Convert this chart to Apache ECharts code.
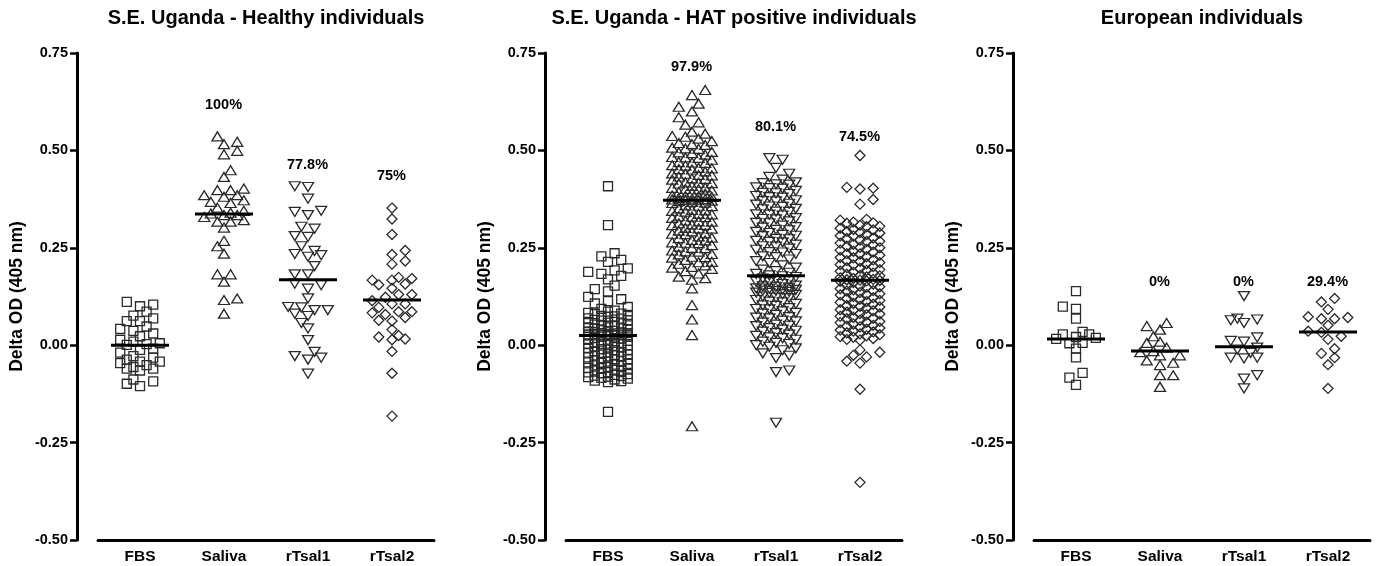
<!DOCTYPE html>
<html>
<head>
<meta charset="utf-8">
<script src="https://cdn.jsdelivr.net/npm/echarts@6/dist/echarts.min.js"></script>
<style>
html,body{margin:0;padding:0;background:#fff;}
#chart{width:1376px;height:566px;}
</style>
</head>
<body>
<div id="chart"></div>
<script>
// ---------------- DATA ----------------
const categories = ['FBS', 'Saliva', 'rTsal1', 'rTsal2'];
const panelTitles = ['S.E. Uganda - Healthy individuals', 'S.E. Uganda - HAT positive individuals', 'European individuals'];
const yAxisName = 'Delta OD (405 nm)';

// Panel 1: S.E. Uganda healthy (n = 36)
const healthyFBS = [0.104, 0.111, 0.100, 0.086, 0.076, 0.069, 0.062, 0.062, 0.048, 0.042, 0.037, 0.030, 0.023, 0.014, 0.009, 0.005, 0.003, 0.001, -0.009, -0.012, -0.019, -0.028, -0.032, -0.037, -0.042, -0.042, -0.046, -0.051, -0.056, -0.060, -0.060, -0.065, -0.088, -0.093, -0.099, -0.105];
const healthySaliva = [0.536, 0.522, 0.516, 0.499, 0.490, 0.449, 0.432, 0.402, 0.398, 0.398, 0.385, 0.385, 0.381, 0.372, 0.368, 0.365, 0.353, 0.345, 0.340, 0.338, 0.334, 0.334, 0.329, 0.321, 0.317, 0.317, 0.302, 0.268, 0.254, 0.235, 0.182, 0.182, 0.163, 0.120, 0.116, 0.081];
const healthyRTsal1 = [0.408, 0.406, 0.376, 0.345, 0.342, 0.334, 0.304, 0.299, 0.280, 0.278, 0.254, 0.242, 0.234, 0.231, 0.227, 0.203, 0.182, 0.182, 0.158, 0.154, 0.145, 0.120, 0.098, 0.097, 0.090, 0.090, 0.081, 0.075, 0.057, 0.043, 0.013, -0.017, -0.028, -0.032, -0.037, -0.073];
const healthyRTsal2 = [0.352, 0.324, 0.284, 0.243, 0.233, 0.216, 0.208, 0.174, 0.171, 0.167, 0.167, 0.157, 0.155, 0.146, 0.130, 0.130, 0.123, 0.114, 0.106, 0.106, 0.097, 0.086, 0.086, 0.083, 0.079, 0.071, 0.064, 0.062, 0.040, 0.025, 0.021, 0.016, 0.014, -0.016, -0.072, -0.182];
const healthyMedians = [0.000, 0.337, 0.168, 0.116];
const healthyPctText = ['', '100%', '77.8%', '75%'];
const healthyPctY = [null, 0.615, 0.462, 0.432];

// Panel 2: S.E. Uganda HAT positive (n = 141)
const hatFBS = [0.408, 0.308, 0.236, 0.228, 0.219, 0.214, 0.197, 0.192, 0.188, 0.183, 0.178, 0.169, 0.153, 0.144, 0.138, 0.124, 0.118, 0.113, 0.107, 0.098, 0.093, 0.089, 0.086, 0.083, 0.081,
  0.080, 0.078, 0.075, 0.074, 0.073, 0.069, 0.068, 0.065, 0.064, 0.063, 0.060, 0.058, 0.057, 0.056, 0.053, 0.051, 0.050, 0.049, 0.046, 0.044,
  0.043, 0.043, 0.040, 0.039, 0.037, 0.036, 0.035, 0.034, 0.032, 0.031, 0.031, 0.030, 0.029, 0.028, 0.028, 0.027, 0.027, 0.026, 0.026, 0.026,
  0.025, 0.025, 0.025, 0.025, 0.025,
  0.024, 0.022, 0.022, 0.019, 0.018, 0.017, 0.014, 0.012, 0.011, 0.009, 0.006, 0.006, 0.004, 0.003, 0.000, -0.001, -0.001, -0.003, -0.005, -0.006,
  -0.007, -0.009, -0.010, -0.012, -0.013, -0.015, -0.017, -0.019, -0.019, -0.020, -0.023, -0.025, -0.026, -0.028, -0.029, -0.031, -0.033, -0.036, -0.036, -0.039,
  -0.041, -0.042, -0.044, -0.045, -0.048, -0.050, -0.052, -0.053, -0.056, -0.058, -0.059, -0.060, -0.063, -0.065, -0.066, -0.069, -0.070, -0.072, -0.074, -0.076,
  -0.078, -0.079, -0.081, -0.082, -0.084, -0.086, -0.088, -0.091, -0.092, -0.095, -0.171];
const hatSaliva = [0.655, 0.642, 0.620, 0.612, 0.600, 0.585, 0.572, 0.566, 0.548, 0.543, 0.537, 0.535, 0.530, 0.524, 0.519,
  0.516, 0.514, 0.507, 0.505, 0.504, 0.496, 0.495, 0.493, 0.489, 0.483, 0.482, 0.481, 0.476, 0.470, 0.469, 0.468, 0.462, 0.461, 0.455, 0.454,
  0.452, 0.451, 0.446, 0.441, 0.440, 0.437, 0.436, 0.433, 0.428, 0.427, 0.425, 0.418, 0.417, 0.416, 0.415, 0.409, 0.405, 0.404, 0.401, 0.400,
  0.397, 0.393, 0.392, 0.389, 0.384, 0.383, 0.382, 0.381, 0.378, 0.376, 0.375, 0.374, 0.373, 0.372, 0.371, 0.370,
  0.368, 0.366, 0.365, 0.359, 0.358, 0.357, 0.351, 0.347, 0.346, 0.345, 0.343, 0.337, 0.336, 0.331, 0.330, 0.329, 0.327, 0.320, 0.318, 0.317,
  0.313, 0.310, 0.309, 0.308, 0.301, 0.300, 0.299, 0.294, 0.292, 0.287, 0.286, 0.285, 0.279, 0.276, 0.275, 0.270, 0.269, 0.264, 0.263, 0.262,
  0.257, 0.253, 0.250, 0.249, 0.243, 0.241, 0.240, 0.234, 0.233, 0.227, 0.226, 0.225, 0.219, 0.214, 0.213, 0.209, 0.205, 0.201, 0.199,
  0.196, 0.190, 0.184, 0.176, 0.172, 0.168, 0.146, 0.103, 0.066, 0.026, -0.208];
const hatRTsal1 = [0.480, 0.476, 0.455, 0.440, 0.432, 0.425, 0.418,
  0.416, 0.413, 0.412, 0.405, 0.403, 0.402, 0.396, 0.391, 0.390, 0.388, 0.383, 0.380, 0.379, 0.372, 0.370, 0.369, 0.363, 0.361, 0.356, 0.355,
  0.350, 0.349, 0.343, 0.342, 0.336, 0.335, 0.333, 0.326, 0.324, 0.323, 0.318, 0.314, 0.313, 0.307, 0.303, 0.302, 0.296, 0.295, 0.291, 0.288,
  0.283, 0.281, 0.280, 0.273, 0.272, 0.268, 0.265, 0.264, 0.258, 0.254, 0.253, 0.248, 0.245, 0.239, 0.238, 0.234, 0.228, 0.226, 0.220, 0.216,
  0.211, 0.205, 0.199, 0.194, 0.190, 0.186, 0.183, 0.179, 0.177,
  0.175, 0.171, 0.170, 0.166, 0.163, 0.162, 0.157, 0.153, 0.151, 0.150, 0.148, 0.146, 0.145, 0.143, 0.142, 0.140, 0.139, 0.137, 0.135, 0.134,
  0.131, 0.129, 0.125, 0.122, 0.121, 0.116, 0.112, 0.110, 0.106, 0.102, 0.101, 0.095, 0.093, 0.092, 0.087, 0.083, 0.081, 0.078, 0.072, 0.071,
  0.069, 0.063, 0.061, 0.058, 0.053, 0.050, 0.049, 0.044, 0.040, 0.037, 0.035, 0.031, 0.027, 0.024, 0.020, 0.018, 0.014, 0.009, 0.006, 0.003,
  0.000, -0.004, -0.008, -0.013, -0.021, -0.027, -0.033, -0.065, -0.069, -0.199];
const hatRTsal2 = [0.487, 0.405, 0.403, 0.401, 0.374, 0.362,
  0.323, 0.321, 0.316, 0.314, 0.313, 0.308, 0.305, 0.304, 0.300, 0.297, 0.296, 0.292, 0.289, 0.288, 0.284, 0.281, 0.280, 0.275, 0.274, 0.270,
  0.267, 0.266, 0.262, 0.259, 0.258, 0.254, 0.251, 0.250, 0.246, 0.244, 0.241, 0.239, 0.235, 0.234, 0.231, 0.227, 0.225, 0.224, 0.219, 0.217,
  0.215, 0.212, 0.209, 0.207, 0.206, 0.202, 0.199, 0.197, 0.194, 0.192, 0.190, 0.187, 0.185, 0.182, 0.179, 0.178, 0.175, 0.173, 0.171, 0.169,
  0.168, 0.167, 0.166, 0.165,
  0.164, 0.161, 0.157, 0.156, 0.152, 0.150, 0.149, 0.145, 0.142, 0.140, 0.139, 0.135, 0.132, 0.130, 0.129, 0.125, 0.122, 0.120, 0.118, 0.115,
  0.112, 0.110, 0.107, 0.105, 0.102, 0.100, 0.098, 0.095, 0.091, 0.090, 0.088, 0.085, 0.081, 0.080, 0.078, 0.074, 0.071, 0.069, 0.068, 0.064,
  0.061, 0.059, 0.058, 0.054, 0.051, 0.049, 0.047, 0.044, 0.041, 0.039, 0.036, 0.034, 0.032, 0.029, 0.027, 0.024, 0.022, 0.020, 0.017, 0.015,
  0.013, -0.012, -0.018, -0.026, -0.030, -0.041, -0.046, -0.113, -0.352];
const hatMedians = [0.025, 0.372, 0.178, 0.167];
const hatPctText = ['', '97.9%', '80.1%', '74.5%'];
const hatPctY = [null, 0.713, 0.558, 0.534];

// Panel 3: European (n = 17)
const euroFBS = [0.139, 0.099, 0.093, 0.068, 0.034, 0.028, 0.028, 0.021, 0.019, 0.016, 0.006, 0.005, -0.009, -0.031, -0.071, -0.083, -0.102];
const euroSaliva = [0.057, 0.049, 0.040, 0.023, 0.009, 0.006, -0.006, -0.015, -0.018, -0.026, -0.026, -0.039, -0.045, -0.051, -0.077, -0.077, -0.107];
const euroRTsal1 = [0.126, 0.068, 0.066, 0.064, 0.057, 0.020, 0.011, 0.009, -0.006, -0.011, -0.020, -0.032, -0.032, -0.034, -0.077, -0.086, -0.111];
const euroRTsal2 = [0.120, 0.111, 0.092, 0.073, 0.071, 0.068, 0.068, 0.051, 0.036, 0.033, 0.023, 0.015, -0.009, -0.021, -0.032, -0.050, -0.111];
const euroMedians = [0.016, -0.015, -0.004, 0.034];
const euroPctText = ['', '0%', '0%', '29.4%'];
const euroPctY = [null, 0.162, 0.162, 0.162];

const yMin = -0.5, yMax = 0.75, yInterval = 0.25;

// ---------------- LAYOUT / STYLE ----------------
const FONT = '"Liberation Sans", Arial, Helvetica, sans-serif';
const gridLefts = [98, 566, 1034];
const gridW = 336, gridTop = 53, gridH = 487;
const symbols = ['rect', 'triangle', 'triangle', 'diamond'];
const symRot = [0, 0, 180, 0];
const symSize = [[9, 9], [11, 9], [11, 9], [10, 10]];

const panels = [
  { cols: [healthyFBS, healthySaliva, healthyRTsal1, healthyRTsal2], med: healthyMedians, pt: healthyPctText, py: healthyPctY },
  { cols: [hatFBS, hatSaliva, hatRTsal1, hatRTsal2], med: hatMedians, pt: hatPctText, py: hatPctY },
  { cols: [euroFBS, euroSaliva, euroRTsal1, euroRTsal2], med: euroMedians, pt: euroPctText, py: euroPctY }
];

// deterministic column-scatter (beeswarm) layout: horizontal offsets in px
function swarm(vals, pxPerUnit, step, maxK, minD) {
  const idx = vals.map((v, i) => i).sort((a, b) => vals[a] - vals[b]);
  const placed = [];
  const off = new Array(vals.length).fill(0);
  let flip = 1;
  for (const i of idx) {
    const y = vals[i] * pxPerUnit;
    const cands = [0];
    for (let k = 1; k <= maxK; k++) { cands.push(flip * k * step, -flip * k * step); }
    let best = 0, bestD = -1;
    for (const x of cands) {
      let md = Infinity;
      for (const p of placed) {
        if (Math.abs(p.y - y) < minD) {
          const d = Math.hypot(p.x - x, p.y - y);
          if (d < md) md = d;
        }
      }
      if (md >= minD) { best = x; bestD = md; break; }
      if (md > bestD) { bestD = md; best = x; }
    }
    placed.push({ x: best, y: y });
    off[i] = best;
    flip = -flip;
  }
  return off;
}

const pxPerUnit = gridH / (yMax - yMin);
const bandPx = gridW / categories.length;

const grid = [], xAxis = [], yAxis = [], series = [], graphic = [];
panels.forEach((pn, g) => {
  grid.push({ left: gridLefts[g], top: gridTop, width: gridW, height: gridH, containLabel: false });
  xAxis.push({
    type: 'category', gridIndex: g, data: categories, position: 'bottom',
    axisLine: { onZero: false, lineStyle: { color: '#000', width: 3 } },
    axisTick: { show: false },
    axisLabel: { color: '#000', fontWeight: 'bold', fontSize: 15.5, fontFamily: FONT, margin: 9 },
    splitLine: { show: false }
  });
  xAxis.push({ type: 'value', gridIndex: g, min: -0.5, max: 3.5, show: false });
  yAxis.push({
    type: 'value', gridIndex: g, min: yMin, max: yMax, interval: yInterval, offset: 21,
    name: yAxisName, nameLocation: 'middle', nameGap: 51, nameRotate: 90,
    nameTextStyle: { color: '#000', fontWeight: 'bold', fontSize: 17.5, fontFamily: FONT },
    axisLine: { show: true, onZero: false, lineStyle: { color: '#000', width: 3 } },
    axisTick: { show: true, length: 7, lineStyle: { color: '#000', width: 2.5 } },
    axisLabel: { color: '#000', fontWeight: 'bold', fontSize: 14.5, fontFamily: FONT, margin: 9,
      showMinLabel: true, showMaxLabel: true, formatter: v => v.toFixed(2) },
    splitLine: { show: false }
  });
  const xi = g * 2 + 1;
  pn.cols.forEach((vals, c) => {
    const off = swarm(vals, pxPerUnit, 6.6, 3, 8.5);
    series.push({
      type: 'scatter', xAxisIndex: xi, yAxisIndex: g, silent: true,
      symbol: symbols[c], symbolRotate: symRot[c], symbolSize: symSize[c],
      itemStyle: { color: 'rgba(255,255,255,0)', borderColor: '#2a2a2a', borderWidth: 1.3, opacity: 1 },
      data: vals.map((v, i) => [c + off[i] / bandPx, v]),
      z: 2
    });
  });
  series.push({
    type: 'custom', xAxisIndex: xi, yAxisIndex: g, silent: true, z: 4,
    renderItem: (params, api) => {
      const p = api.coord([api.value(0), api.value(1)]);
      return { type: 'line', shape: { x1: p[0] - 29, y1: p[1], x2: p[0] + 29, y2: p[1] },
        style: { stroke: '#000', lineWidth: 3 } };
    },
    data: pn.med.map((m, c) => [c, m])
  });
  const lbl = [];
  pn.pt.forEach((t, c) => { if (t) lbl.push({ value: [c, pn.py[c]], txt: t }); });
  series.push({
    type: 'scatter', xAxisIndex: xi, yAxisIndex: g, silent: true, z: 5,
    symbol: 'circle', symbolSize: 1, itemStyle: { color: 'rgba(0,0,0,0)', opacity: 1 },
    label: { show: true, position: [0, 0], align: 'center', verticalAlign: 'middle',
      color: '#000', fontWeight: 'bold', fontSize: 14.5, fontFamily: FONT, textBorderWidth: 0,
      formatter: p => lbl[p.dataIndex].txt },
    data: lbl.map(d => d.value)
  });
  graphic.push({
    type: 'text', x: gridLefts[g] + gridW / 2, y: 18, silent: true,
    style: { text: panelTitles[g], fill: '#000', font: 'bold 20px ' + FONT, textAlign: 'center', textVerticalAlign: 'middle' }
  });
});

const chart = echarts.init(document.getElementById('chart'), null, { renderer: 'canvas' });
chart.setOption({
  backgroundColor: '#fff',
  animation: false,
  textStyle: { fontFamily: FONT },
  grid, xAxis, yAxis, series, graphic
});
</script>
</body>
</html>
